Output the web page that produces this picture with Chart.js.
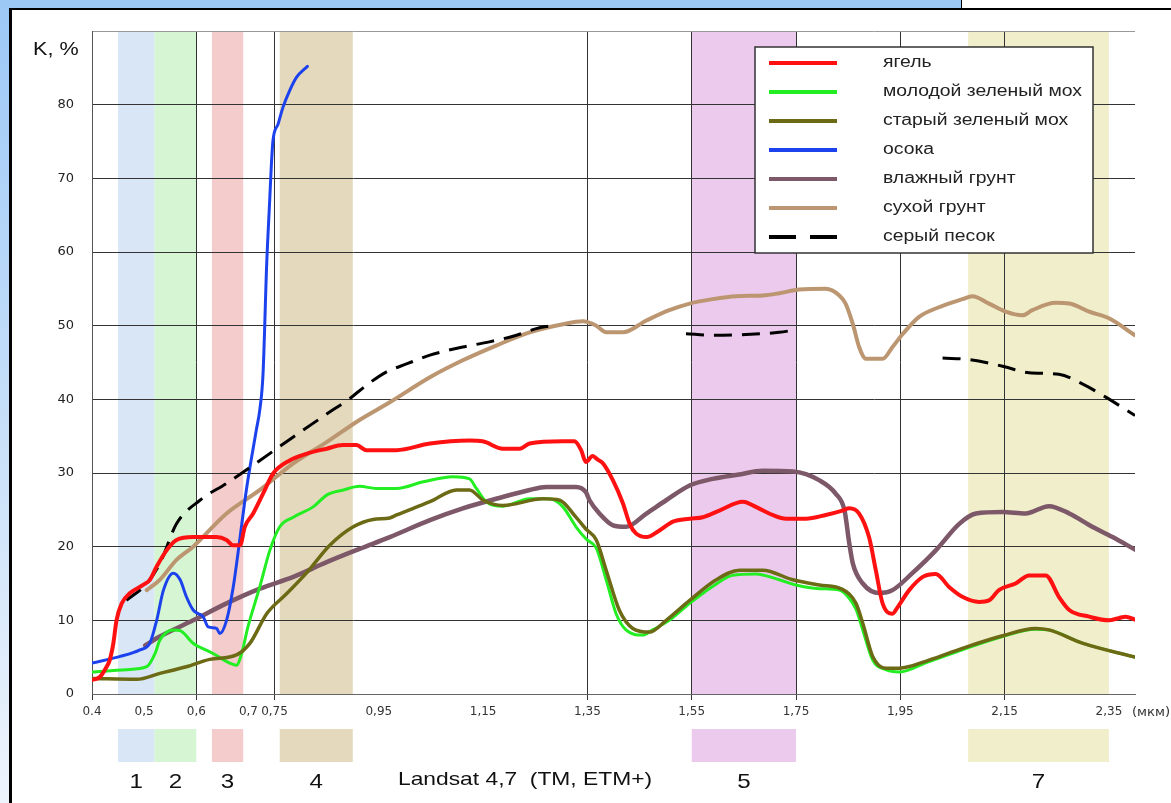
<!DOCTYPE html>
<html>
<head>
<meta charset="utf-8">
<script src="https://cdn.jsdelivr.net/npm/chart.js@4/dist/chart.umd.min.js"></script>
<style>
  html, body { margin: 0; padding: 0; width: 1171px; height: 803px; overflow: hidden; background: #fff; }
  #edgeLeft { position: absolute; left: 0; top: 0; width: 9px; height: 803px; background: linear-gradient(#9cc8f6, #eef4fc); }
  #edgeTop { position: absolute; left: 0; top: 0; width: 961px; height: 8px; background: #9cc8f6; }
  #corner { position: absolute; left: 961px; top: 0; width: 210px; height: 8px; background: #fff; border-left: 1px solid #000; }
  #panel { position: absolute; left: 9px; top: 8px; width: 1200px; height: 900px; background: #fff; border-left: 3px solid #000; border-top: 2px solid #000; }
  #chart { position: absolute; left: 0; top: 0; }
</style>
</head>
<body>
<div id="edgeLeft"></div>
<div id="edgeTop"></div>
<div id="corner"></div>
<div id="panel"></div>
<canvas id="chart" width="1171" height="803"></canvas>
<script>
// Spectral reflectance K (%) against wavelength (µm)

// x-axis labels and which of them carry a vertical grid line
const tickWl   = [0.4, 0.5, 0.6, 0.7, 0.75, 0.95, 1.15, 1.35, 1.55, 1.75, 1.95, 2.15, 2.35];
const tickText = ['0.4', '0,5', '0,6', '0,7', '0,75', '0,95', '1,15', '1,35', '1,55', '1,75', '1,95', '2,15', '2,35'];
const gridWl   = [0.4, 0.6, 0.75, 1.35, 1.55, 1.75, 1.95, 2.15];

// Landsat 4,7 TM / ETM+ channels
const bandNames = ['1', '2', '3', '4', '5', '7'];
const bandFrom  = [0.45, 0.52, 0.63, 0.76, 1.55, 2.08];
const bandTo    = [0.52, 0.60, 0.69, 0.90, 1.75, 2.35];

// ягель
const yagelWl = [0.400, 0.415, 0.428, 0.434, 0.441, 0.447, 0.457, 0.473, 0.498, 0.511, 0.524, 0.543, 0.562, 0.594, 0.639, 0.658, 0.670, 0.684, 0.693, 0.709, 0.728, 0.747, 0.779, 0.811, 0.850, 0.881, 0.907, 0.926, 0.984, 1.048, 1.124, 1.149, 1.188, 1.220, 1.239, 1.303, 1.325, 1.338, 1.347, 1.360, 1.370, 1.380, 1.399, 1.418, 1.431, 1.443, 1.463, 1.488, 1.514, 1.546, 1.571, 1.603, 1.648, 1.673, 1.705, 1.731, 1.769, 1.807, 1.839, 1.852, 1.871, 1.890, 1.903, 1.916, 1.935, 1.945, 1.967, 1.993, 2.018, 2.044, 2.069, 2.101, 2.120, 2.139, 2.171, 2.197, 2.229, 2.254, 2.274, 2.312, 2.350, 2.369, 2.382, 2.400];
const yagelK  = [1.9, 2.3, 3.7, 4.6, 6.9, 10.0, 12.3, 13.7, 14.8, 15.5, 17.3, 19.5, 20.9, 21.3, 21.3, 20.9, 20.2, 20.2, 22.7, 24.5, 27.2, 29.9, 31.7, 32.6, 33.3, 33.8, 33.8, 33.1, 33.1, 34.0, 34.4, 34.3, 33.3, 33.3, 34.0, 34.3, 34.3, 33.1, 31.5, 32.3, 31.8, 31.3, 29.0, 25.9, 23.1, 21.8, 21.3, 22.2, 23.4, 23.8, 24.0, 24.9, 26.1, 25.4, 24.3, 23.8, 23.8, 24.3, 24.9, 25.2, 24.5, 21.3, 16.8, 12.3, 10.9, 11.8, 14.1, 15.9, 16.3, 14.5, 13.2, 12.5, 12.7, 14.1, 15.0, 16.1, 16.1, 13.2, 11.4, 10.5, 10.0, 10.3, 10.5, 10.1];

// молодой зеленый мох
const youngMossWl = [0.400, 0.466, 0.505, 0.521, 0.530, 0.556, 0.569, 0.594, 0.632, 0.664, 0.677, 0.687, 0.699, 0.722, 0.741, 0.760, 0.786, 0.824, 0.850, 0.882, 0.913, 0.945, 0.984, 1.035, 1.092, 1.124, 1.137, 1.156, 1.188, 1.239, 1.277, 1.303, 1.328, 1.348, 1.367, 1.386, 1.405, 1.424, 1.456, 1.475, 1.507, 1.546, 1.590, 1.628, 1.673, 1.718, 1.750, 1.795, 1.833, 1.852, 1.865, 1.878, 1.897, 1.922, 1.948, 2.005, 2.069, 2.146, 2.209, 2.235, 2.299, 2.400];
const youngMossK  = [3.0, 3.3, 3.7, 5.5, 7.3, 8.7, 8.6, 6.9, 5.5, 4.2, 3.9, 5.5, 9.1, 14.6, 19.5, 22.7, 24.0, 25.4, 27.0, 27.7, 28.2, 27.9, 27.9, 28.8, 29.5, 29.2, 27.9, 26.1, 25.5, 26.5, 26.5, 25.4, 22.7, 21.0, 19.8, 15.5, 10.9, 8.7, 8.0, 8.7, 10.0, 12.3, 14.6, 16.1, 16.3, 15.5, 14.8, 14.3, 14.1, 13.0, 11.5, 8.7, 4.6, 3.3, 3.0, 4.4, 6.0, 7.8, 8.8, 8.7, 6.9, 5.0];

// старый зеленый мох
const oldMossWl = [0.400, 0.486, 0.530, 0.581, 0.626, 0.677, 0.703, 0.735, 0.773, 0.811, 0.856, 0.901, 0.939, 0.971, 0.984, 1.048, 1.099, 1.124, 1.150, 1.188, 1.265, 1.297, 1.328, 1.347, 1.367, 1.386, 1.411, 1.437, 1.469, 1.501, 1.546, 1.597, 1.642, 1.686, 1.744, 1.795, 1.839, 1.865, 1.878, 1.897, 1.922, 1.948, 2.005, 2.069, 2.146, 2.209, 2.235, 2.299, 2.400];
const oldMossK  = [2.1, 2.0, 2.8, 3.7, 4.7, 5.3, 6.9, 10.9, 13.6, 16.4, 20.2, 22.7, 23.7, 23.9, 24.3, 26.1, 27.7, 27.7, 26.3, 25.6, 26.5, 26.3, 24.0, 22.4, 20.9, 16.8, 11.4, 8.9, 8.4, 10.0, 12.7, 15.5, 16.8, 16.8, 15.5, 14.8, 14.2, 12.3, 9.6, 5.1, 3.5, 3.5, 4.6, 6.2, 7.9, 8.9, 8.7, 6.9, 5.0];

// осока
const sedgeWl = [0.400, 0.454, 0.492, 0.511, 0.524, 0.537, 0.556, 0.569, 0.581, 0.594, 0.604, 0.613, 0.623, 0.639, 0.645, 0.658, 0.671, 0.684, 0.696, 0.715, 0.722, 0.728, 0.735, 0.741, 0.744, 0.747, 0.757, 0.766, 0.779, 0.792, 0.813];
const sedgeK  = [4.2, 5.1, 6.0, 6.9, 10.0, 14.1, 16.4, 15.5, 13.2, 11.4, 10.9, 10.5, 9.1, 8.9, 8.2, 10.0, 14.6, 21.3, 27.7, 35.8, 38.7, 43.5, 58.4, 67.4, 71.9, 75.1, 77.4, 79.6, 81.9, 83.7, 85.2];

// влажный грунт
const wetSoilWl = [0.502, 0.530, 0.594, 0.658, 0.722, 0.786, 0.850, 0.913, 0.971, 1.048, 1.111, 1.175, 1.239, 1.271, 1.328, 1.347, 1.354, 1.373, 1.399, 1.424, 1.463, 1.501, 1.546, 1.590, 1.641, 1.686, 1.744, 1.795, 1.826, 1.843, 1.852, 1.859, 1.878, 1.910, 1.935, 1.973, 2.018, 2.063, 2.095, 2.146, 2.190, 2.235, 2.274, 2.318, 2.357, 2.400];
const wetSoilK  = [6.6, 7.8, 10.0, 12.3, 14.3, 15.9, 17.9, 19.7, 21.3, 23.6, 25.2, 26.5, 27.7, 28.1, 28.1, 27.4, 26.3, 24.5, 22.9, 22.7, 24.5, 26.3, 28.3, 29.2, 29.8, 30.3, 30.2, 29.0, 27.2, 24.9, 20.5, 17.7, 15.0, 13.7, 14.1, 16.4, 19.5, 23.1, 24.5, 24.7, 24.5, 25.5, 24.5, 22.7, 21.3, 19.6];

// сухой грунт
const drySoilWl = [0.505, 0.530, 0.562, 0.594, 0.658, 0.722, 0.786, 0.850, 0.913, 0.971, 1.048, 1.111, 1.175, 1.239, 1.303, 1.341, 1.367, 1.386, 1.418, 1.463, 1.507, 1.546, 1.590, 1.635, 1.686, 1.718, 1.756, 1.807, 1.833, 1.845, 1.859, 1.871, 1.884, 1.916, 1.935, 1.955, 1.986, 2.024, 2.069, 2.088, 2.120, 2.152, 2.184, 2.203, 2.248, 2.274, 2.312, 2.350, 2.400];
const drySoilK  = [14.1, 15.5, 18.2, 20.0, 24.5, 27.7, 31.3, 34.2, 37.2, 39.6, 43.0, 45.3, 47.3, 49.1, 50.2, 50.6, 50.0, 49.1, 49.1, 50.7, 52.1, 53.0, 53.6, 54.0, 54.1, 54.4, 54.9, 55.0, 54.1, 53.0, 50.2, 47.1, 45.5, 45.5, 47.1, 48.9, 51.2, 52.5, 53.6, 54.0, 53.0, 51.9, 51.4, 52.1, 53.1, 53.0, 51.9, 51.0, 48.7];

// серый песок (measured in three separate ranges)
const sandWl = [0.466, 0.505, 0.530, 0.562, 0.607, 0.658, 0.722, 0.786, 0.850, 0.894, 0.926, 0.964, 1.003, 1.048, 1.111, 1.162, 1.214, 1.252, 1.280, 1.400, 1.539, 1.590, 1.654, 1.718, 1.747, 1.900, 2.031, 2.082, 2.146, 2.197, 2.254, 2.299, 2.344, 2.400];
const sandK  = [12.7, 15.0, 17.7, 23.1, 26.3, 28.6, 31.7, 34.9, 38.0, 40.1, 41.9, 43.7, 44.8, 46.0, 47.1, 47.8, 48.7, 49.6, 50.0, null, 48.9, 48.7, 48.8, 49.1, 49.4, null, 45.6, 45.4, 44.5, 43.6, 43.4, 42.1, 40.3, 37.8];

const seriesNames = ['ягель', 'молодой зеленый мох', 'старый зеленый мох', 'осока', 'влажный грунт', 'сухой грунт', 'серый песок'];
const seriesWl = [yagelWl, youngMossWl, oldMossWl, sedgeWl, wetSoilWl, drySoilWl, sandWl];
const seriesK  = [yagelK, youngMossK, oldMossK, sedgeK, wetSoilK, drySoilK, sandK];

// styling
const lineColors = ['#ff1111', '#22ee22', '#6c6a14', '#1c42ee', '#7d5868', '#bb9670', '#000000'];
const lineWidths = [4, 3, 3.5, 3, 4.5, 4, 3];
const lineDash   = [[], [], [], [], [], [], [18, 10]];
const drawOrder  = [0, 3, 2, 4, 5, 6, 1];
const bandColors = ['#d8e6f6', '#d6f6d3', '#f4cccc', '#e4d9bd', '#eccaee', '#f0eecb'];

const FONT = '"Liberation Sans", Arial, sans-serif';

function stretchedText(ctx, text, x, y, sx, align) {
  ctx.save();
  ctx.translate(x, y);
  ctx.scale(sx, 1);
  ctx.textAlign = align || 'left';
  ctx.fillText(text, 0, 0);
  ctx.restore();
}

const datasets = seriesNames.map((name, i) => ({
  label: name,
  data: seriesWl[i].map((w, j) => ({ x: w, y: seriesK[i][j] })),
  borderColor: lineColors[i],
  backgroundColor: lineColors[i],
  borderWidth: lineWidths[i],
  borderDash: lineDash[i],
  borderCapStyle: i === 6 ? 'butt' : 'round',
  cubicInterpolationMode: 'monotone',
  spanGaps: false,
  pointRadius: 0,
  fill: false,
  order: drawOrder[i]
}));

// coloured channel strips behind the curves, repeated as swatches under the axis
const bandsPlugin = {
  id: 'bands',
  beforeDraw(chart) {
    const { ctx, chartArea, scales: { x } } = chart;
    ctx.save();
    bandNames.forEach((name, i) => {
      const x0 = x.getPixelForValue(bandFrom[i]);
      const x1 = x.getPixelForValue(bandTo[i]);
      ctx.fillStyle = bandColors[i];
      ctx.fillRect(x0, chartArea.top, x1 - x0, chartArea.bottom - chartArea.top);
      ctx.fillRect(x0, chartArea.bottom + 35, x1 - x0, 33);
      ctx.fillStyle = '#111';
      ctx.font = '21px ' + FONT;
      ctx.textBaseline = 'middle';
      stretchedText(ctx, name, (x0 + x1) / 2, chartArea.bottom + 88, 1.15, 'center');
    });
    ctx.fillStyle = '#111';
    ctx.font = '19px ' + FONT;
    ctx.textBaseline = 'middle';
    stretchedText(ctx, 'Landsat 4,7  (TM, ETM+)', 398, chartArea.bottom + 86, 1.2, 'left');
    ctx.font = '18px ' + FONT;
    stretchedText(ctx, 'K, %', 33, 50, 1.2, 'left');
    ctx.fillStyle = '#333';
    ctx.font = '12px "DejaVu Sans", sans-serif';
    stretchedText(ctx, '(мкм)', x.getPixelForValue(2.35) + 23, chartArea.bottom + 19, 1.1, 'left');
    ctx.restore();
  }
};

// boxed key in the upper right corner of the plot
const keyPlugin = {
  id: 'key',
  afterDatasetsDraw(chart) {
    const { ctx } = chart;
    const left = 755, top = 47, w = 338, h = 206;
    ctx.save();
    ctx.fillStyle = '#fff';
    ctx.fillRect(left, top, w, h);
    ctx.strokeStyle = '#333';
    ctx.lineWidth = 1.5;
    ctx.strokeRect(left, top, w, h);
    seriesNames.forEach((name, i) => {
      const y = top + 16 + i * 29;
      ctx.beginPath();
      ctx.strokeStyle = lineColors[i];
      ctx.lineWidth = 4;
      ctx.setLineDash(i === 6 ? [27, 14] : []);
      ctx.moveTo(left + 14, y);
      ctx.lineTo(left + 82, y);
      ctx.stroke();
      ctx.setLineDash([]);
      ctx.fillStyle = '#222';
      ctx.font = '16px ' + FONT;
      ctx.textBaseline = 'middle';
      stretchedText(ctx, name, left + 128, y, 1.21, 'left');
    });
    ctx.restore();
  }
};

new Chart(document.getElementById('chart'), {
  type: 'line',
  data: { datasets },
  options: {
    responsive: false,
    animation: false,
    events: [],
    layout: { padding: { left: 0, top: 31, right: 36, bottom: 0 } },
    plugins: { legend: { display: false }, tooltip: { enabled: false } },
    scales: {
      x: {
        type: 'linear',
        min: 0.4,
        max: 2.4,
        afterBuildTicks: s => { s.ticks = tickWl.map(v => ({ value: v })); },
        afterFit: s => { s.height = 109; },
        grid: {
          color: c => (c.tick && gridWl.includes(c.tick.value)) ? '#333' : 'rgba(0,0,0,0)',
          lineWidth: 1,
          tickLength: 6
        },
        border: { color: '#666', width: 1 },
        ticks: {
          autoSkip: false,
          maxRotation: 0,
          padding: 5,
          color: '#333',
          font: { family: 'DejaVu Sans', size: 12 },
          callback: (v, i) => tickText[i]
        }
      },
      y: {
        min: 0,
        max: 90,
        afterFit: s => { s.width = 92; },
        grid: {
          color: c => c.tick.value === 90 ? '#999' : (c.tick.value === 0 ? '#777' : '#333'),
          lineWidth: 1,
          drawTicks: false
        },
        border: { color: '#555', width: 1 },
        ticks: {
          stepSize: 10,
          padding: 18,
          color: '#222',
          font: { family: 'DejaVu Sans', size: 13 },
          callback: v => v === 90 ? '' : v
        }
      }
    }
  },
  plugins: [bandsPlugin, keyPlugin]
});
</script>
</body>
</html>
